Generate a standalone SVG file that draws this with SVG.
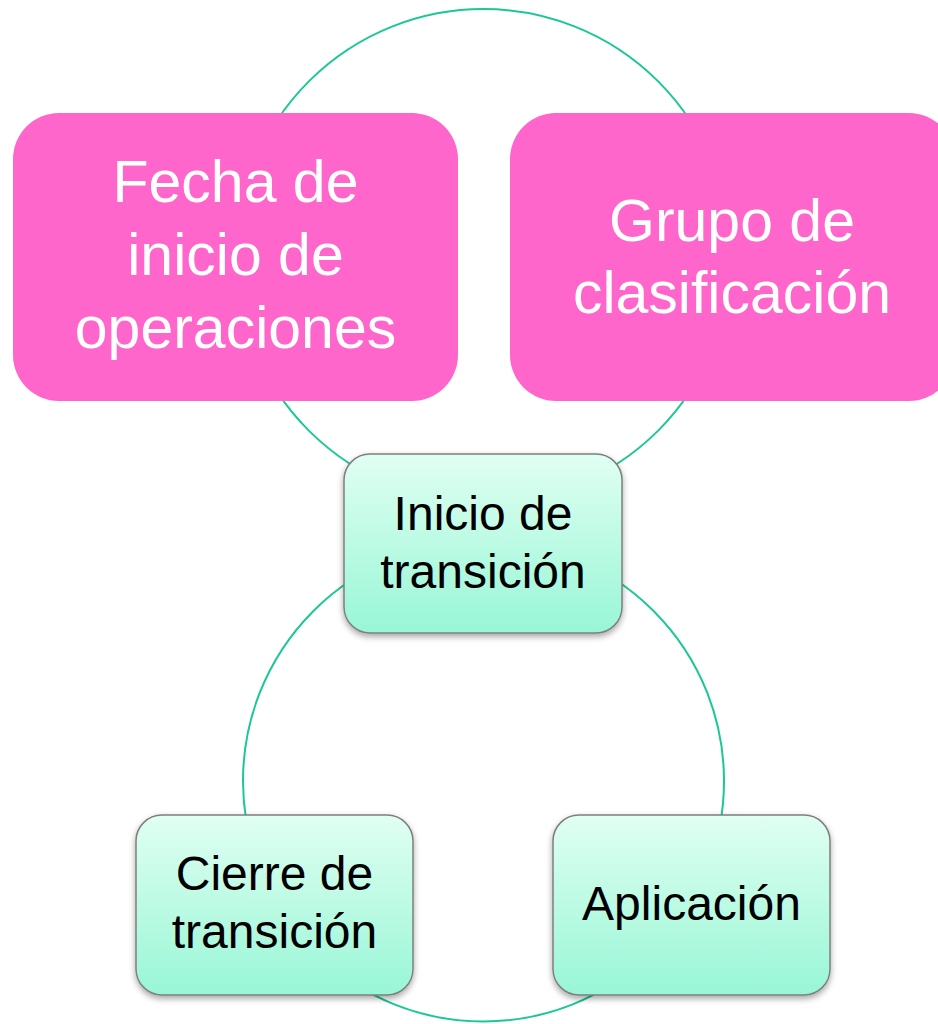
<svg xmlns="http://www.w3.org/2000/svg" width="938" height="1024" viewBox="0 0 938 1024">
  <style>
    .ring { fill: none; stroke: #1CC796; stroke-width: 2; }
    .pink { fill: #FF66CC; }
    .green { fill: url(#g); stroke: #7F7F7F; stroke-width: 1.5; filter: url(#sh); }
    .wt { font-family: "Liberation Sans", Arial, sans-serif; font-size: 59px; fill: #FFFFFF; text-anchor: middle; }
    .bt { font-family: "Liberation Sans", Arial, sans-serif; font-size: 48px; fill: #000000; text-anchor: middle; }
  </style>
  <defs>
    <linearGradient id="g" x1="0" y1="0" x2="0" y2="1">
      <stop offset="0" stop-color="#E0FFF2"/>
      <stop offset="1" stop-color="#98F6D6"/>
    </linearGradient>
    <filter id="sh" x="-10%" y="-10%" width="120%" height="125%">
      <feDropShadow dx="0" dy="3" stdDeviation="3" flood-color="#000" flood-opacity="0.35"/>
    </filter>
  </defs>
  <rect width="938" height="1024" fill="#FFFFFF"/>
  <g id="connectors">
    <circle class="ring" cx="483.5" cy="256" r="247"/>
    <circle class="ring" cx="483.5" cy="781" r="240.5"/>
  </g>
  <g id="fecha">
    <rect class="pink" x="13" y="113" width="445" height="288" rx="46"/>
    <text class="wt" x="235.5" y="202">Fecha de</text>
    <text class="wt" x="235.5" y="275">inicio de</text>
    <text class="wt" x="235.5" y="348">operaciones</text>
  </g>
  <g id="grupo">
    <rect class="pink" x="510" y="113" width="445" height="288" rx="46"/>
    <text class="wt" x="732" y="241">Grupo de</text>
    <text class="wt" x="732" y="313">clasificación</text>
  </g>
  <g id="inicio">
    <rect class="green" x="344" y="454" width="278" height="179" rx="26"/>
    <text class="bt" x="483" y="530">Inicio de</text>
    <text class="bt" x="483" y="588">transición</text>
  </g>
  <g id="cierre">
    <rect class="green" x="136" y="815" width="277" height="180" rx="26"/>
    <text class="bt" x="274.5" y="890">Cierre de</text>
    <text class="bt" x="274.5" y="948">transición</text>
  </g>
  <g id="aplicacion">
    <rect class="green" x="553" y="815" width="277" height="180" rx="26"/>
    <text class="bt" x="691.5" y="920">Aplicación</text>
  </g>
</svg>
